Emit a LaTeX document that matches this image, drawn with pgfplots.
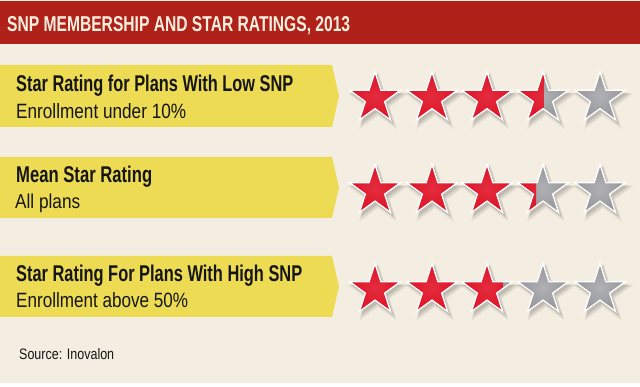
\documentclass[border=0pt]{standalone}
\usepackage{pgfplots}
\pgfplotsset{compat=1.18}
\usepackage{pgfplotstable}
\usepackage{graphicx}
\usepackage{fontspec}
\setmainfont{Liberation Sans}
\definecolor{cream}{HTML}{F4EEE2}
\definecolor{titlered}{HTML}{B0211A}
\definecolor{titletext}{HTML}{F8F0DF}
\definecolor{banner}{HTML}{EDDC53}
\definecolor{txt}{HTML}{151515}
\definecolor{starred}{HTML}{E01A2D}
\definecolor{stargray}{HTML}{9A9B9F}
\pgfdeclareradialshading{redshade}{\pgfpointorigin}{color(0bp)=(starred!92!white);color(18bp)=(starred);color(50bp)=(starred!88!black)}
\pgfdeclareradialshading{grayshade}{\pgfpointorigin}{color(0bp)=(stargray!78!white);color(20bp)=(stargray);color(50bp)=(stargray!85!black)}

\def\starpath{%
 \pgfpathmoveto{\pgfpointpolar{90}{\pgfplotmarksize}}%
 \pgfpathlineto{\pgfpointpolar{126}{0.382*\pgfplotmarksize}}%
 \pgfpathlineto{\pgfpointpolar{162}{\pgfplotmarksize}}%
 \pgfpathlineto{\pgfpointpolar{198}{0.382*\pgfplotmarksize}}%
 \pgfpathlineto{\pgfpointpolar{234}{\pgfplotmarksize}}%
 \pgfpathlineto{\pgfpointpolar{270}{0.382*\pgfplotmarksize}}%
 \pgfpathlineto{\pgfpointpolar{306}{\pgfplotmarksize}}%
 \pgfpathlineto{\pgfpointpolar{342}{0.382*\pgfplotmarksize}}%
 \pgfpathlineto{\pgfpointpolar{18}{\pgfplotmarksize}}%
 \pgfpathlineto{\pgfpointpolar{54}{0.382*\pgfplotmarksize}}%
 \pgfpathclose}
\pgfdeclareplotmark{sstar}{\starpath\pgfusepathqfill}
\pgfdeclareplotmark{gstar}{\starpath\pgfshadepath{grayshade}{0}\pgfusepath{}}
\pgfdeclareplotmark{ostar}{\starpath\pgfusepathqstroke}
\pgfdeclareplotmark{pstar}{%
 \pgfscope
 \pgfpathrectangle{\pgfpoint{-0.951*\pgfplotmarksize}{-1.1*\pgfplotmarksize}}%
   {\pgfpoint{1.902*\ff*\pgfplotmarksize+0.3pt}{2.2*\pgfplotmarksize}}%
 \pgfusepath{clip}%
 \starpath\pgfshadepath{redshade}{0}\pgfusepath{}%
 \endpgfscope}

% star positions (pixel space): rows at y = 98.5, 191, 290
\pgfplotstableread{
x y
375 98.5
432 98.5
487 98.5
543 98.5
600 98.5
375 191
432 191
487 191
543 191
600 191
375 290
432 290
487 290
543 290
600 290
}\allstars
% red fill of each star (ratings: low SNP 3.5, mean 3.36, high SNP 2.8)
\pgfplotstableread{
x y f
375 98.5 1
432 98.5 1
487 98.5 1
543 98.5 0.5
375 191 1
432 191 1
487 191 1
543 191 0.36
375 290 1
432 290 1
487 290 0.8
}\redfill

\begin{document}
\begin{tikzpicture}
\begin{axis}[
  scale only axis, width=640pt, height=387pt,
  xmin=0, xmax=640, ymin=0, ymax=387, y dir=reverse,
  hide axis, clip=false,
]
% background
\fill[cream] (axis cs:0,0) rectangle (axis cs:640,383);
\fill[white] (axis cs:0,383) rectangle (axis cs:640,387);
\fill[titlered] (axis cs:0,1) rectangle (axis cs:640,44);
\node[anchor=base west, inner sep=0pt, text=titletext] at (axis cs:7,31.7)
  {\resizebox{343pt}{15pt}{\bfseries SNP MEMBERSHIP AND STAR RATINGS, 2013}};
% banners
\fill[banner] (axis cs:0,65) -- (axis cs:332,65) -- (axis cs:339,96) -- (axis cs:332,127) -- (axis cs:0,127) -- cycle;
\fill[banner] (axis cs:0,157) -- (axis cs:332,157) -- (axis cs:339,187.5) -- (axis cs:332,218) -- (axis cs:0,218) -- cycle;
\fill[banner] (axis cs:0,256) -- (axis cs:332,256) -- (axis cs:339,286.5) -- (axis cs:332,317) -- (axis cs:0,317) -- cycle;
\node[anchor=base west, inner sep=0pt, text=txt] at (axis cs:16,91.7)
  {\resizebox{277pt}{16.5pt}{\bfseries Star Rating for Plans With Low SNP}};
\node[anchor=base west, inner sep=0pt, text=txt] at (axis cs:16,118.3)
  {\resizebox{170pt}{15pt}{Enrollment under 10\%}};
\node[anchor=base west, inner sep=0pt, text=txt] at (axis cs:16,182.7)
  {\resizebox{136pt}{16.5pt}{\bfseries Mean Star Rating}};
\node[anchor=base west, inner sep=0pt, text=txt] at (axis cs:15,209)
  {\resizebox{65pt}{14.5pt}{All plans}};
\node[anchor=base west, inner sep=0pt, text=txt] at (axis cs:16,281.7)
  {\resizebox{286pt}{16.5pt}{\bfseries Star Rating For Plans With High SNP}};
\node[anchor=base west, inner sep=0pt, text=txt] at (axis cs:16,307.3)
  {\resizebox{172pt}{15pt}{Enrollment above 50\%}};
\node[anchor=base west, inner sep=0pt, text=txt] at (axis cs:19,359.3)
  {\resizebox{95pt}{11pt}{Source: Inovalon}};
% shadows
\addplot[only marks, mark=sstar, mark size=32pt, mark options={fill=black, fill opacity=0.05, draw=none, xshift=3pt, yshift=-5pt}] table[x=x,y=y]{\allstars};
\addplot[only marks, mark=sstar, mark size=30pt, mark options={fill=black, fill opacity=0.07, draw=none, xshift=3pt, yshift=-4pt}] table[x=x,y=y]{\allstars};
\addplot[only marks, mark=sstar, mark size=28pt, mark options={fill=black, fill opacity=0.10, draw=none, xshift=2pt, yshift=-3pt}] table[x=x,y=y]{\allstars};
% gray star bodies
\addplot[only marks, mark=gstar, mark size=26.5pt] table[x=x,y=y]{\allstars};
% red fill
\addplot[scatter, only marks, mark=pstar, mark size=26.5pt,
  visualization depends on={\thisrow{f}\as\ff},
  scatter/use mapped color={fill=starred, draw=none}] table[x=x,y=y]{\redfill};
% white outlines
\addplot[only marks, mark=ostar, mark size=26.5pt, mark options={draw=white, line width=1.3pt, line join=miter, fill=none}] table[x=x,y=y]{\allstars};
\end{axis}
\end{tikzpicture}
\end{document}
